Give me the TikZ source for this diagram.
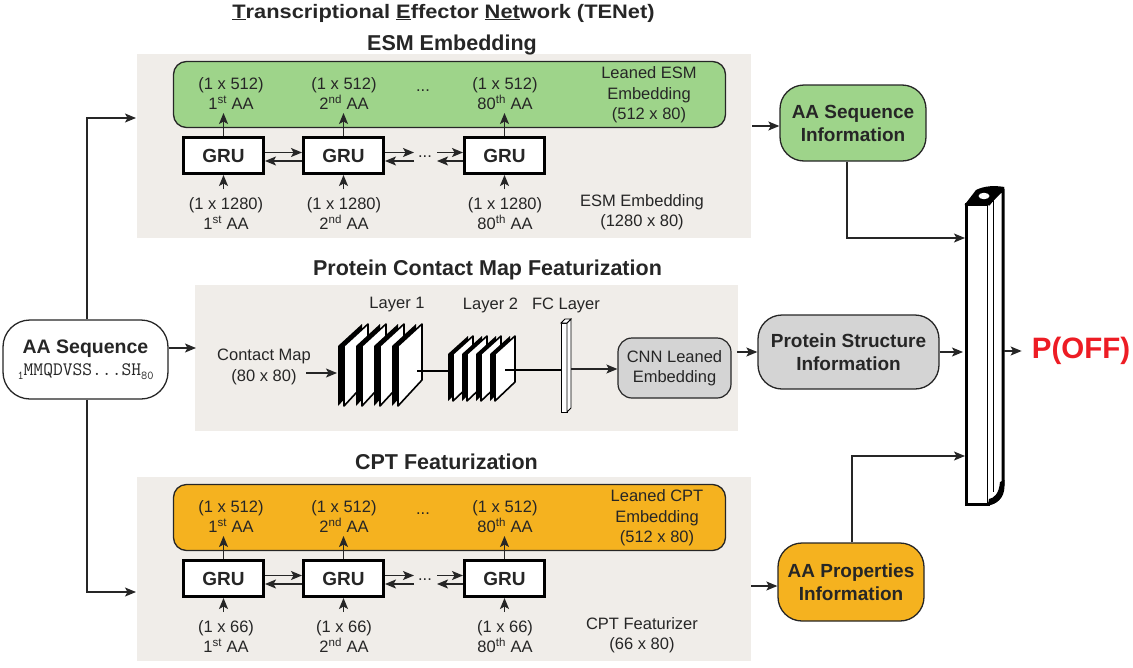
\documentclass[tikz,border=0pt]{standalone}
\usepackage{fontspec}
\setmainfont{Liberation Sans}
\usetikzlibrary{arrows.meta,calc}
\definecolor{panelbg}{HTML}{F0EDE9}
\definecolor{esmgreen}{HTML}{9ED48A}
\definecolor{cptorange}{HTML}{F5B21F}
\definecolor{boxgray}{HTML}{D4D4D4}
\definecolor{ink}{HTML}{262626}
\definecolor{offred}{HTML}{ED1C24}
\tikzset{
  lbl/.style={text=ink, font=\fontsize{16.5}{20.5}\selectfont, inner sep=0pt, align=center},
  ttl/.style={text=ink, font=\bfseries\fontsize{21.5}{24}\selectfont, inner sep=0pt, anchor=base},
  gru/.style={draw=black, line width=3pt, fill=white, minimum width=80pt, minimum height=36pt, inner sep=0pt, text=ink, font=\bfseries\fontsize{19}{23}\selectfont},
  embbox/.style={draw=ink, line width=1.3pt, rounded corners=13pt, inner sep=0pt, minimum width=552pt, minimum height=66pt},
  info/.style={draw=ink, line width=1.3pt, rounded corners=24pt, inner sep=0pt, align=center, text=ink, font=\bfseries\fontsize{19}{23}\selectfont},
  cnnbox/.style={draw=ink, line width=1.2pt, fill=boxgray, rounded corners=14pt, minimum width=113pt, minimum height=60pt, inner sep=0pt, align=center, text=ink, font=\fontsize{16.5}{20.5}\selectfont},
  arr/.style={draw=ink, line width=1.3pt, -{Stealth[length=11pt,width=9pt,inset=2.5pt]}},
  thickln/.style={draw=black, line width=2pt},
}
\newcommand\cnnslab[7]{%
  \fill[black, line join=round] (#1-#7,#2) -- ++(#3,-#4) -- ++(0,#6) -- (#1-#7,#2+#5) -- cycle;
  \filldraw[fill=white, draw=black, line width=1.6pt, line join=round] (#1,#2) -- ++(#3,-#4) -- ++(0,#6) -- (#1,#2+#5) -- cycle;
}
\begin{document}
\begin{tikzpicture}[x=1pt,y=-1pt]
\useasboundingbox (0,0) rectangle (1133,667);
% panels
\fill[panelbg] (137,54) rectangle (751,238);
\fill[panelbg] (195,285) rectangle (738,431);
\fill[panelbg] (137,477) rectangle (751,661);
% titles
\node[ttl, font=\bfseries\fontsize{19.5}{24}\selectfont] (title) at (443.5,18) {\scalebox{1.12}[1]{\underline{T}ranscriptional \underline{E}ffector \underline{Net}work (TENet)}};
\node[ttl] (esmttl) at (452,50) {ESM Embedding};
\node[ttl] (cmttl) at (487.5,275) {Protein Contact Map Featurization};
\node[ttl] (cptttl) at (446.5,469) {CPT Featurization};

% ---------------- ESM block
\node[embbox, fill=esmgreen] (esmemb) at (449.5,94.5) {};
\node[lbl] (et1) at (231,93.5) {(1 x 512)\\1\textsuperscript{st} AA};
\node[lbl] (et2) at (344,93.5) {(1 x 512)\\2\textsuperscript{nd} AA};
\node[lbl] (et3) at (505,93.5) {(1 x 512)\\80\textsuperscript{th} AA};
\node[lbl, anchor=base] (etd) at (423,91) {...};
\node[lbl] (eleaned) at (649,95) {Leaned ESM\\Embedding\\(512 x 80)};
\node[gru] (g1) at (223.5,155.5) {GRU};
\node[gru] (g2) at (343.5,155.5) {GRU};
\node[gru] (g3) at (504.5,155.5) {GRU};
\node[lbl, anchor=base] (gdots) at (425,157) {...};
\node[lbl] (eb1) at (226,213.5) {(1 x 1280)\\1\textsuperscript{st} AA};
\node[lbl] (eb2) at (344,213.5) {(1 x 1280)\\2\textsuperscript{nd} AA};
\node[lbl] (eb3) at (505,213.5) {(1 x 1280)\\80\textsuperscript{th} AA};
\node[lbl] (eesm) at (642,212) {ESM Embedding\\(1280 x 80)};
\coordinate (gu1) at (223.5,113); \coordinate (gu2) at (343.5,113); \coordinate (gu3) at (504.5,113);
\coordinate (gd1) at (223.5,189); \coordinate (gd2) at (343.5,189); \coordinate (gd3) at (504.5,189);
\foreach \i in {1,2,3} {\draw[arr] (g\i) -- (gu\i); \draw[arr] (gd\i) -- (g\i);}
\draw[arr] ([yshift=3pt]g1.east) -- ([yshift=3pt]g2.west);
\draw[arr] ([yshift=-5.5pt]g2.west) -- ([yshift=-5.5pt]g1.east);
\coordinate (ga) at (414,152.5); \coordinate (gb) at (414,161);
\coordinate (gc) at (437,152.5); \coordinate (gdd) at (437,161);
\draw[arr] (g2.east |- ga) -- (ga);
\draw[arr] (gb) -- (g2.east |- gb);
\draw[arr] (gc) -- (g3.west |- gc);
\draw[arr] (g3.west |- gdd) -- (gdd);

% ---------------- CPT block
\node[embbox, fill=cptorange] (cptemb) at (449.5,517.5) {};
\node[lbl] (ct1) at (231,516.5) {(1 x 512)\\1\textsuperscript{st} AA};
\node[lbl] (ct2) at (344,516.5) {(1 x 512)\\2\textsuperscript{nd} AA};
\node[lbl] (ct3) at (505,516.5) {(1 x 512)\\80\textsuperscript{th} AA};
\node[lbl, anchor=base] (ctd) at (423,514) {...};
\node[lbl] (cleaned) at (657,518) {Leaned CPT\\Embedding\\(512 x 80)};
\node[gru] (c1) at (223.5,578.5) {GRU};
\node[gru] (c2) at (343.5,578.5) {GRU};
\node[gru] (c3) at (504.5,578.5) {GRU};
\node[lbl, anchor=base] (cdots) at (425,580) {...};
\node[lbl] (cb1) at (226,636.5) {(1 x 66)\\1\textsuperscript{st} AA};
\node[lbl] (cb2) at (344,636.5) {(1 x 66)\\2\textsuperscript{nd} AA};
\node[lbl] (cb3) at (505,636.5) {(1 x 66)\\80\textsuperscript{th} AA};
\node[lbl] (cfeat) at (642,635) {CPT Featurizer\\(66 x 80)};
\coordinate (cu1) at (223.5,536); \coordinate (cu2) at (343.5,536); \coordinate (cu3) at (504.5,536);
\coordinate (cd1) at (223.5,612); \coordinate (cd2) at (343.5,612); \coordinate (cd3) at (504.5,612);
\foreach \i in {1,2,3} {\draw[arr] (c\i) -- (cu\i); \draw[arr] (cd\i) -- (c\i);}
\draw[arr] ([yshift=3pt]c1.east) -- ([yshift=3pt]c2.west);
\draw[arr] ([yshift=-5.5pt]c2.west) -- ([yshift=-5.5pt]c1.east);
\coordinate (ca) at (414,575.5); \coordinate (cb) at (414,584);
\coordinate (cc) at (437,575.5); \coordinate (cdd) at (437,584);
\draw[arr] (c2.east |- ca) -- (ca);
\draw[arr] (cb) -- (c2.east |- cb);
\draw[arr] (cc) -- (c3.west |- cc);
\draw[arr] (c3.west |- cdd) -- (cdd);

% ---------------- contact map block
\node[lbl] (cmap) at (264,367) {Contact Map\\(80 x 80)};
\node[lbl] (lay1) at (397,305) {Layer 1};
\node[lbl] (lay2) at (490.5,305) {Layer 2};
\node[lbl] (fcl) at (566,305) {FC Layer};
\foreach \x in {344,362,380,398} {\cnnslab{\x}{346}{24}{22}{60}{56}{6}}
\coordinate (l1out) at (417,371); \coordinate (l2in) at (452,371);
\draw[thickln] (l1out) -- (l2in);
\foreach \x in {453,467,481,495} {\cnnslab{\x}{354}{20}{18}{47}{46}{5}}
\coordinate (l2out) at (505,370); \coordinate (fcin) at (561,370);
\draw[thickln] (l2out) -- (fcin);
% FC layer
\filldraw[fill=white, draw=black, line width=0.8pt] (561,323) rectangle (567,412);
\filldraw[fill=white, draw=black, line width=0.8pt] (567,323) -- (571,319) -- (571,408) -- (567,412) -- cycle;
\filldraw[fill=white, draw=black, line width=0.8pt] (561,323) -- (565,319) -- (571,319) -- (567,323) -- cycle;
\coordinate (cmin) at (306,373); \coordinate (l1in) at (337,373);
\draw[arr] (cmin) -- (l1in);
\node[cnnbox] (cnn) at (674.5,368) {CNN Leaned\\Embedding};
\coordinate (fcout) at (571,369);
\draw[arr] (fcout) -- (cnn.west |- fcout);

% ---------------- AA sequence input
\node[info, fill=white, minimum width=165pt, minimum height=79pt, rounded corners=27pt, font=\fontsize{19.5}{23}\selectfont] (aaseq) at (85.5,359.5)
  {\textbf{AA Sequence}\\[-1pt]{\ttfamily\fontsize{19}{19}\selectfont\raisebox{-4pt}{\fontsize{12}{12}\selectfont 1}MMQDVSS...SH\raisebox{-4pt}{\fontsize{12}{12}\selectfont 80}}};
\coordinate (v0) at (87,0);
\coordinate (esmin) at (136,118); \coordinate (cptin) at (136,592); \coordinate (midin) at (196,348);
\draw[arr] (aaseq.north -| v0) |- (esmin);
\draw[arr] (aaseq.south -| v0) |- (cptin);
\draw[arr] (aaseq.east |- midin) -- (midin);

% ---------------- information boxes
\node[info, fill=esmgreen, minimum width=146pt, minimum height=76pt] (aasi) at (853,123) {AA Sequence\\Information};
\node[info, fill=boxgray, minimum width=181pt, minimum height=74pt] (psi) at (848.5,352) {Protein Structure\\Information};
\node[info, fill=cptorange, minimum width=146pt, minimum height=78pt] (aapi) at (851,582) {AA Properties\\Information};
\coordinate (esmout) at (752,126); \coordinate (midout) at (737,352); \coordinate (cptout) at (751,586);
\draw[arr] (esmout) -- (esmout -| aasi.west);
\draw[arr] (midout) -- (midout -| psi.west);
\draw[arr] (cptout) -- (cptout -| aapi.west);

% ---------------- output column
\coordinate (colin1) at (965,238); \coordinate (colin2) at (963,352); \coordinate (colin3) at (965,456);
\coordinate (colout) at (1004,351);
\coordinate (v1) at (847,0); \coordinate (v3) at (852,0);
\filldraw[fill=white, draw=black, line width=3pt] (966,204) rectangle (988,504);
\filldraw[fill=white, draw=black, line width=3pt, line join=round] (988,204) -- (1003,189) -- (1003,486) .. controls (1003,498) and (995,503) .. (988,504);
\draw[black, line width=0.8pt] (993,200) -- (993,492);
\fill[black] (988,504) .. controls (998,503) and (1004.5,496) .. (1004.5,480) -- (1000,482) .. controls (999,494) and (994,498) .. (989,499) -- cycle;
\fill[black, line join=round] (964.5,205) -- (976,190) .. controls (985,185.5) and (995,185.5) .. (1004.5,187) -- (989.5,205.5) -- cycle;
\fill[white] (984,196) ellipse [x radius=5.5pt, y radius=3.2pt];
\draw[arr] (aasi.south -| v1) |- (colin1);
\draw[arr] (psi.east |- colin2) -- (colin2);
\draw[arr] (aapi.north -| v3) |- (colin3);
\node[text=offred, font=\bfseries\fontsize{29.5}{32}\selectfont, inner sep=0pt] (poff) at (1081,351) {P(OFF)};
\draw[arr] (colout) -- ([xshift=-10pt]poff.west);
\end{tikzpicture}
\end{document}
